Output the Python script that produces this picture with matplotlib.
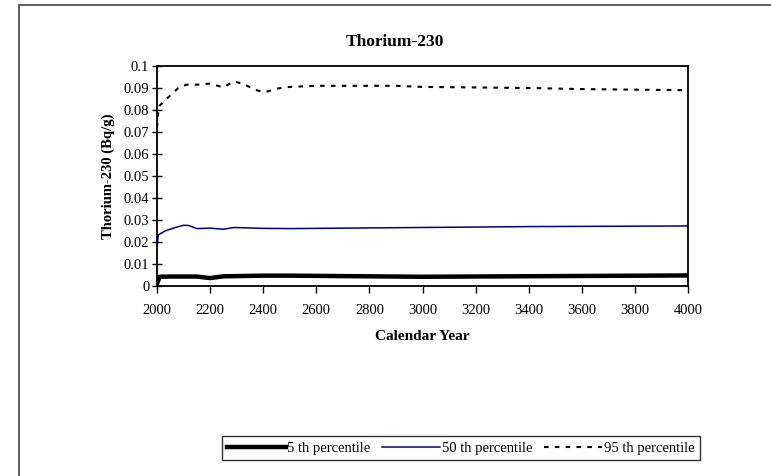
import matplotlib
matplotlib.use("Agg")
import matplotlib.pyplot as plt
from matplotlib.patches import Rectangle

plt.rcParams['font.family'] = ['Liberation Serif', 'DejaVu Serif']

years_95 = [2000, 2005, 2010, 2040, 2080, 2110, 2150, 2200, 2250, 2290, 2320, 2380, 2410, 2450, 2500, 2600, 2900, 3000, 3400, 3600, 4000]
p95 = [0.072, 0.080, 0.082, 0.0855, 0.0900, 0.0915, 0.0915, 0.0920, 0.0903, 0.0930, 0.0920, 0.0888, 0.0882, 0.0897, 0.0905, 0.0910, 0.0910, 0.0905, 0.0900, 0.0895, 0.0890]

years_50 = [2000, 2005, 2030, 2070, 2100, 2120, 2150, 2200, 2250, 2290, 2400, 2500, 2700, 3000, 3400, 4000]
p50 = [0.018, 0.0232, 0.0250, 0.0266, 0.0276, 0.0275, 0.0261, 0.0263, 0.0258, 0.0266, 0.0262, 0.0261, 0.0263, 0.0266, 0.0270, 0.0273]

years_5 = [2000, 2010, 2050, 2150, 2200, 2250, 2400, 2500, 3000, 3500, 4000]
p5 = [0.001, 0.0042, 0.0043, 0.0043, 0.0036, 0.0044, 0.0047, 0.0047, 0.0042, 0.0045, 0.0048]

labels = ['5 th percentile', '50 th percentile', '95 th percentile']

fig = plt.figure(figsize=(7.71, 4.76), dpi=100)
fig.patches.append(Rectangle((19/771, -0.1), 2, 1.1 - 5/476, transform=fig.transFigure,
                             fill=False, edgecolor='#444444', linewidth=1.2))
ax = fig.add_axes([157/771, 1 - 286/476, (688-157)/771, (286-66)/476])

l1, = ax.plot(years_5, p5, color='black', linewidth=3.2, label=labels[0])
l2, = ax.plot(years_50, p50, color='#000080', linewidth=1.1, label=labels[1])
l3, = ax.plot(years_95, p95, color='black', linewidth=1.5, linestyle=(0, (2.2, 3.0)), label=labels[2])

ax.set_xlim(2000, 4000)
ax.set_ylim(0, 0.1)
ax.set_xticks(range(2000, 4001, 200))
ax.set_yticks([i / 100 for i in range(0, 11)])
ax.set_yticklabels(['0', '0.01', '0.02', '0.03', '0.04', '0.05', '0.06', '0.07', '0.08', '0.09', '0.1'])
ax.tick_params(axis='x', direction='out', length=5, labelsize=10.5, pad=8, width=1)
ax.tick_params(axis='y', direction='inout', length=7, labelsize=10.5, pad=2, width=1)
for s in ax.spines.values():
    s.set_linewidth(1.3)

fig.text(395/771, 1 - 42/476, 'Thorium-230', fontsize=12.5, fontweight='bold', ha='center', va='center')
ax.set_xlabel('Calendar Year', fontsize=11, fontweight='bold', labelpad=9)
ax.set_ylabel('Thorium-230 (Bq/g)', fontsize=10.5, fontweight='bold', labelpad=6)

leg = fig.legend(handles=[l1, l2, l3], loc='center', bbox_to_anchor=((224+698)/2/771, 1 - 448/476),
                 ncol=3, fontsize=10.5, frameon=True, fancybox=False, edgecolor='black',
                 handlelength=4.0, handletextpad=0.1, columnspacing=0.8, borderpad=0.35)
leg.get_frame().set_linewidth(1.0)

fig.savefig('out.png', dpi=100)
